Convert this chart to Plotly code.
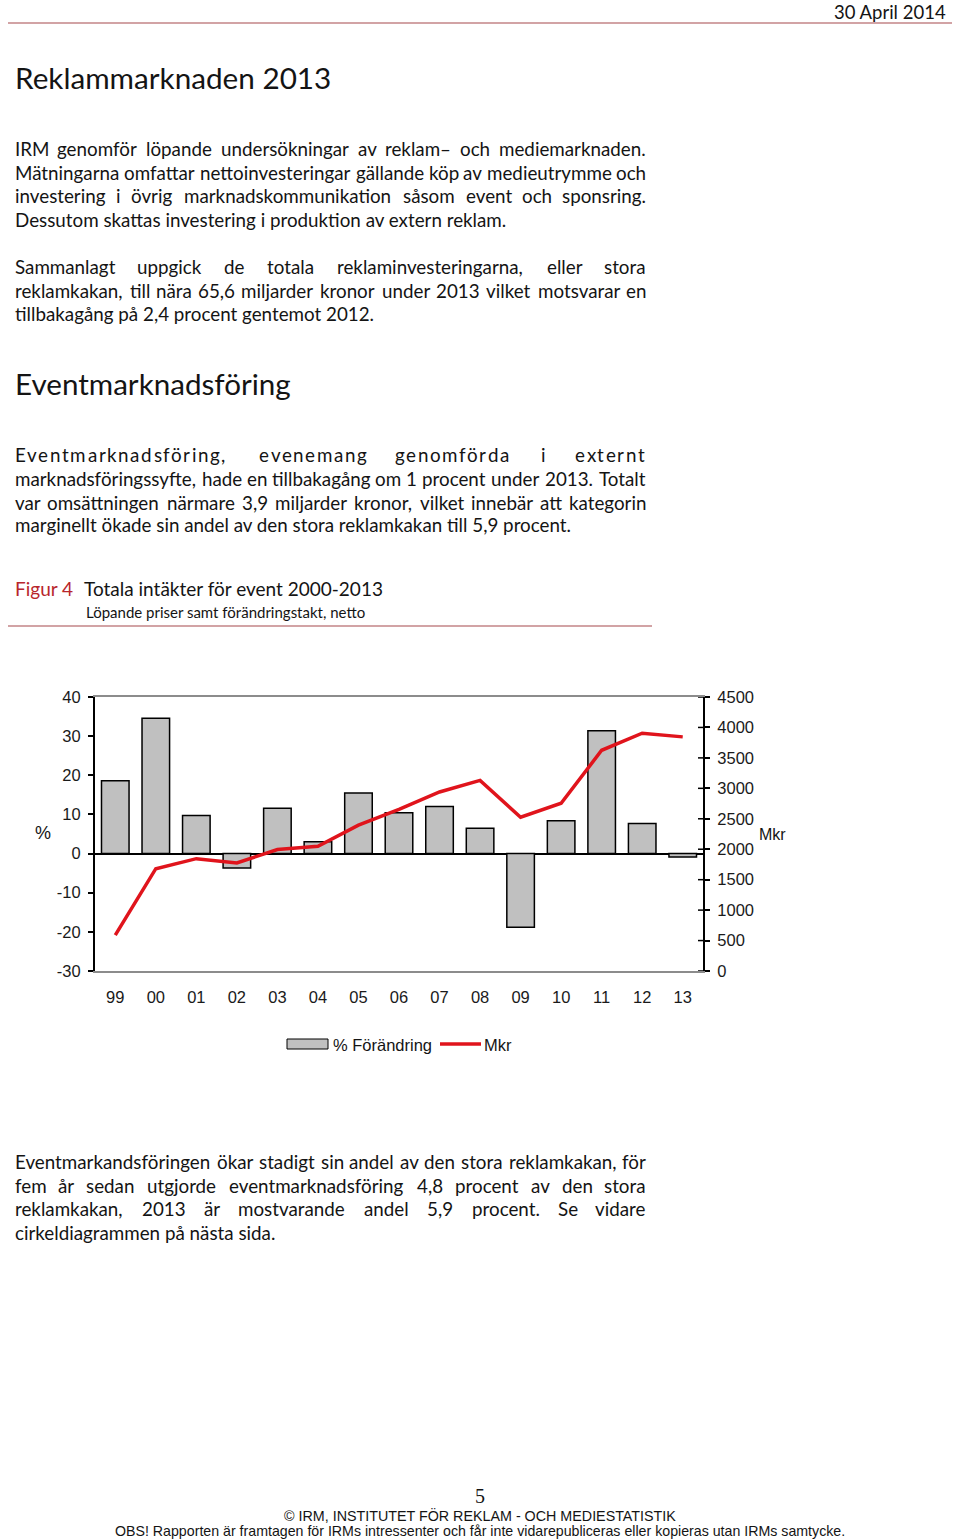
import plotly.graph_objects as go

# ---------------- data ----------------
years = ["99", "00", "01", "02", "03", "04", "05", "06", "07", "08", "09", "10", "11", "12", "13"]
pct_change = [18.6, 34.6, 9.7, -3.7, 11.6, 3.0, 15.5, 10.4, 12.0, 6.5, -18.8, 8.4, 31.4, 7.7, -0.9]
mkr = [590, 1680, 1845, 1775, 1995, 2050, 2395, 2655, 2940, 3130, 2525, 2755, 3625, 3905, 3845]
left_ticks = [-30, -20, -10, 0, 10, 20, 30, 40]
left_labels = ["-30", "-20", "-10", "0", "10", "20", "30", "40"]
right_ticks = [0, 500, 1000, 1500, 2000, 2500, 3000, 3500, 4000, 4500]
series_names = ["% Förändring", "Mkr"]

# ---------------- page ----------------
W, H = 960, 1540
BODY = "Lato"
CHART = "Liberation Sans"
INK = "#141414"
RULE = "#a5484c"
BODY_FS = 18.8
CAL = 1.02

LATO = {
    ' ': .193, 'a': .49, 'b': .557, 'c': .464, 'd': .557, 'e': .524, 'f': .316, 'g': .503,
    'h': .555, 'i': .236, 'j': .236, 'k': .506, 'l': .236, 'm': .825, 'n': .555, 'o': .556,
    'p': .551, 'q': .557, 'r': .367, 's': .43, 't': .353, 'u': .555, 'v': .506, 'w': .764,
    'x': .49, 'y': .506, 'z': .45, 'å': .49, 'ä': .49, 'ö': .556,
    'A': .68, 'B': .634, 'C': .674, 'D': .75, 'E': .558, 'F': .54, 'G': .72, 'H': .76,
    'I': .29, 'J': .4, 'K': .665, 'L': .5, 'M': .92, 'N': .76, 'O': .8, 'P': .6, 'R': .63,
    'S': .52, 'T': .59, 'U': .73, 'V': .68,
    ',': .23, '.': .23, '–': .58, '-': .37, '%': .75,
}
for d in "0123456789":
    LATO[d] = .58


def tw(s, fs):
    return sum(LATO.get(c, .52) for c in s) * fs * CAL


annotations = []
shapes = []


def px(x):
    return x / W


def py(y):
    return 1 - y / H


def add_text(txt, x, y, size=BODY_FS, family=BODY, color=INK, anchor="left"):
    annotations.append(dict(
        text=txt, x=px(x), y=py(y), xref="paper", yref="paper",
        xanchor=anchor, yanchor="middle", showarrow=False, borderpad=0,
        font=dict(family=family, size=size, color=color)))


def justify(line, y, x0=14, x1=647, size=BODY_FS):
    words = line.split(" ")
    ws = [tw(w, size) for w in words]
    gap = (x1 - x0 - sum(ws)) / (len(words) - 1)
    x = x0
    for i, (w, wd) in enumerate(zip(words, ws)):
        if i == 0:
            add_text(w, x0, y, size)
        elif i == len(words) - 1:
            add_text(w, x1, y, size, anchor="right")
        else:
            add_text(w, x + wd / 2, y, size, anchor="center")
        x += wd + gap


def paragraph(lines, flags, ys):
    for line, j, y in zip(lines, flags, ys):
        if j:
            justify(line, y)
        else:
            add_text(line, 14, y)


# header
add_text("30 April 2014", 947, 12.5, 18.5, anchor="right")
shapes.append(dict(type="line", xref="paper", yref="paper", x0=px(8), x1=px(952),
                   y0=py(23), y1=py(23), line=dict(color=RULE, width=1.2)))

add_text("Reklammarknaden 2013", 14, 78, 29.7)

paragraph([
    "IRM genomför löpande undersökningar av reklam– och mediemarknaden.",
    "Mätningarna omfattar nettoinvesteringar gällande köp av medieutrymme och",
    "investering i övrig marknadskommunikation såsom event och sponsring.",
    "Dessutom skattas investering i produktion av extern reklam.",
], [True, True, True, False], [148, 172, 195, 219])

paragraph([
    "Sammanlagt uppgick de totala reklaminvesteringarna, eller stora",
    "reklamkakan, till nära 65,6 miljarder kronor under 2013 vilket motsvarar en",
    "tillbakagång på 2,4 procent gentemot 2012.",
], [True, True, False], [266, 290, 313])

add_text("Eventmarknadsföring", 14, 384, 29.6)

# letter-spaced first line
LS = 1.5
for word, start in [("Eventmarknadsföring,", 14), ("evenemang", 258), ("genomförda", 394),
                    ("i", 540), ("externt", 574)]:
    x = start
    for ch in word:
        add_text(ch, x, 455)
        x += tw(ch, BODY_FS) + LS

paragraph([
    "marknadsföringssyfte, hade en tillbakagång om 1 procent under 2013. Totalt",
    "var omsättningen närmare 3,9 miljarder kronor, vilket innebär att kategorin",
    "marginellt ökade sin andel av den stora reklamkakan till 5,9 procent.",
], [True, True, False], [478, 502, 525])

# figure caption
add_text("Figur 4", 14, 589, 19, color="#b8262c")
add_text("Totala intäkter för event 2000-2013", 83, 589, 19)
add_text("Löpande priser samt förändringstakt, netto", 85, 612, 15)
shapes.append(dict(type="line", xref="paper", yref="paper", x0=px(8), x1=px(652),
                   y0=py(626), y1=py(626), line=dict(color=RULE, width=1.2)))

# axis titles
add_text("%", 43, 833, 18, family=CHART, anchor="center")
add_text("Mkr", 758, 834, 16, family=CHART)

# manual legend
shapes.append(dict(type="rect", xref="paper", yref="paper", x0=px(287), x1=px(328),
                   y0=py(1049), y1=py(1039), fillcolor="#c0c0c0",
                   line=dict(color="#000", width=1)))
add_text(series_names[0], 332, 1045, 16.5, family=CHART)
shapes.append(dict(type="line", xref="paper", yref="paper", x0=px(440), x1=px(481),
                   y0=py(1044), y1=py(1044), line=dict(color="#e0141c", width=3.5)))
add_text(series_names[1], 483, 1045, 16.5, family=CHART)

paragraph([
    "Eventmarkandsföringen ökar stadigt sin andel av den stora reklamkakan, för",
    "fem år sedan utgjorde eventmarknadsföring 4,8 procent av den stora",
    "reklamkakan, 2013 är mostvarande andel 5,9 procent. Se vidare",
    "cirkeldiagrammen på nästa sida.",
], [True, True, True, False], [1161, 1185, 1208, 1232])

# footer
add_text("5", 480, 1496, 20, family="Liberation Serif", anchor="center")
add_text("© IRM, INSTITUTET FÖR REKLAM - OCH MEDIESTATISTIK", 480, 1515, 14.3,
         family=CHART, anchor="center")
add_text("OBS! Rapporten är framtagen för IRMs intressenter och får inte vidarepubliceras "
         "eller kopieras utan IRMs samtycke.", 480, 1531, 14.2,
         family=CHART, anchor="center")

# right-axis ticks crossing inward
for v in right_ticks:
    shapes.append(dict(type="line", xref="paper", yref="y2", x0=px(698), x1=px(703),
                       y0=v, y1=v, line=dict(color="#000", width=1.5)))

# ---------------- chart ----------------
fig = go.Figure()
fig.add_trace(go.Bar(
    x=years, y=pct_change, name=series_names[0],
    marker=dict(color="#c0c0c0", line=dict(color="#000", width=1.5)),
    showlegend=False))
fig.add_trace(go.Scatter(
    x=years, y=mkr, name=series_names[1], yaxis="y2", mode="lines",
    line=dict(color="#e0141c", width=3.5), showlegend=False))

tickfont = dict(family=CHART, size=16.5, color="#1a1a1a")
fig.update_layout(
    width=W, height=H, margin=dict(l=0, r=0, t=0, b=0, autoexpand=False),
    paper_bgcolor="white", plot_bgcolor="white",
    bargap=0.32, showlegend=False,
    xaxis=dict(domain=[px(95), px(703)], type="category", range=[-0.5, 14.5],
               showline=True, linecolor="#8c8c8c", linewidth=1.5, mirror=True,
               ticks="", showgrid=False, zeroline=False, tickfont=tickfont,
               ticklabelstandoff=10, automargin=False),
    yaxis=dict(domain=[py(971), py(697)], range=[-30, 40], tickvals=left_ticks,
               ticktext=left_labels,
               showline=True, linecolor="#000", linewidth=2, ticks="outside",
               ticklen=5, tickwidth=1.5, tickcolor="#000", showgrid=False,
               zeroline=True, zerolinecolor="#000", zerolinewidth=1.5,
               tickfont=tickfont, ticklabelstandoff=4, automargin=False),
    yaxis2=dict(overlaying="y", side="right", anchor="x", range=[0, 4500],
                tickvals=right_ticks, showline=True, linecolor="#000", linewidth=2,
                ticks="outside", ticklen=5, tickwidth=1.5, tickcolor="#000",
                showgrid=False, zeroline=False, tickfont=tickfont, ticklabelstandoff=4,
                automargin=False),
    annotations=annotations, shapes=shapes,
)

fig.write_html("out.html", config={"displayModeBar": False},
               post_script="document.body.style.margin='0px';")
